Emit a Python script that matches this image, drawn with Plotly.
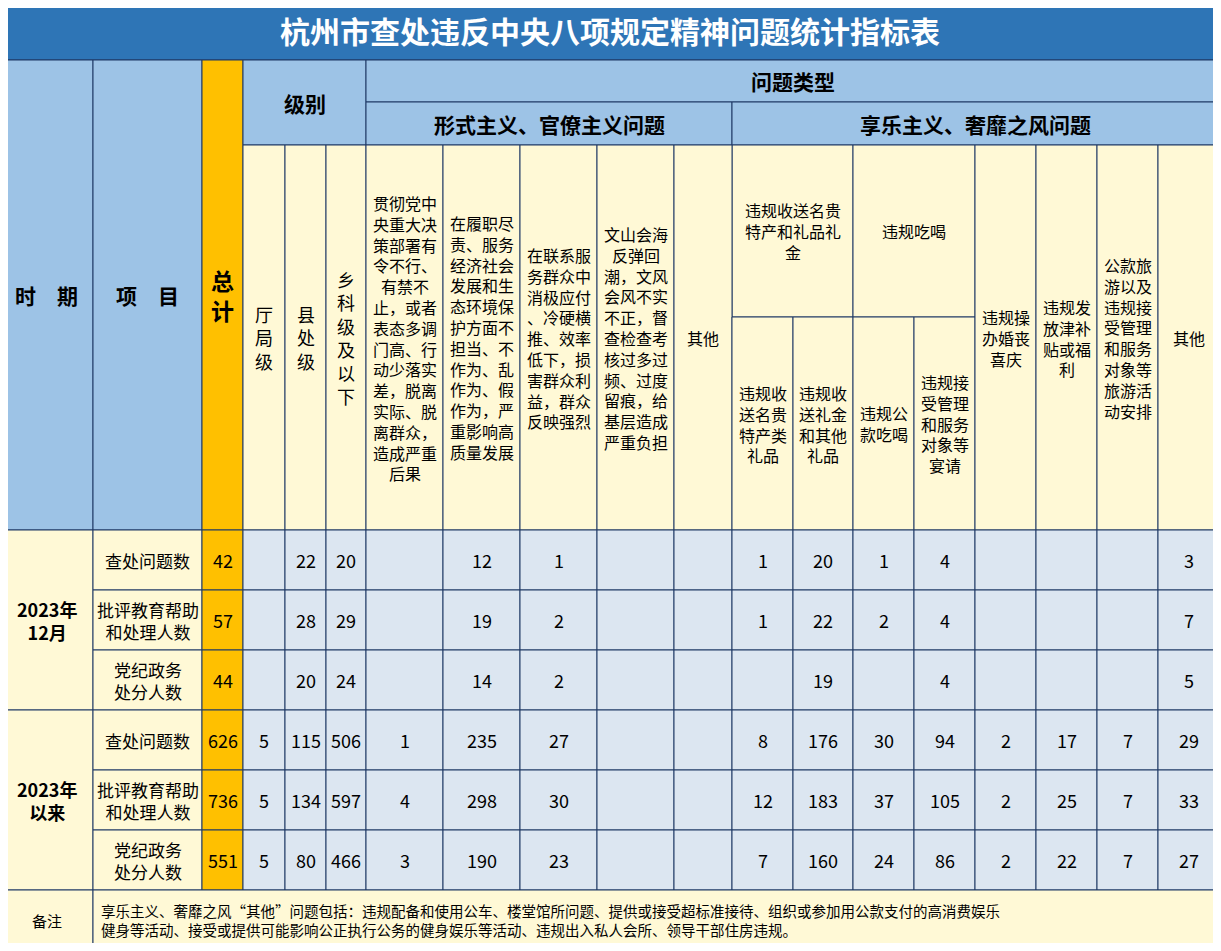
import plotly.graph_objects as go

title = "杭州市查处违反中央八项规定精神问题统计指标表"
periods = ["2023年<br>12月", "2023年<br>以来"]
items = ["查处问题数", "批评教育帮助<br>和处理人数", "党纪政务<br>处分人数"]
col_heads = ["厅<br>局<br>级", "县<br>处<br>级", "乡<br>科<br>级<br>及<br>以<br>下",
             "贯彻党中<br>央重大决<br>策部署有<br>令不行、<br>有禁不<br>止，或者<br>表态多调<br>门高、行<br>动少落实<br>差，脱离<br>实际、脱<br>离群众，<br>造成严重<br>后果",
             "在履职尽<br>责、服务<br>经济社会<br>发展和生<br>态环境保<br>护方面不<br>担当、不<br>作为、乱<br>作为、假<br>作为，严<br>重影响高<br>质量发展",
             "在联系服<br>务群众中<br>消极应付<br>、冷硬横<br>推、效率<br>低下，损<br>害群众利<br>益，群众<br>反映强烈",
             "文山会海<br>反弹回<br>潮，文风<br>会风不实<br>不正，督<br>查检查考<br>核过多过<br>频、过度<br>留痕，给<br>基层造成<br>严重负担",
             "其他",
             "违规收<br>送名贵<br>特产类<br>礼品", "违规收<br>送礼金<br>和其他<br>礼品",
             "违规公<br>款吃喝", "违规接<br>受管理<br>和服务<br>对象等<br>宴请",
             "违规操<br>办婚丧<br>喜庆", "违规发<br>放津补<br>贴或福<br>利",
             "公款旅<br>游以及<br>违规接<br>受管理<br>和服务<br>对象等<br>旅游活<br>动安排", "其他"]
totals = [42, 57, 44, 626, 736, 551]
values = [
    ["", 22, 20, "", 12, 1, "", "", 1, 20, 1, 4, "", "", "", 3],
    ["", 28, 29, "", 19, 2, "", "", 1, 22, 2, 4, "", "", "", 7],
    ["", 20, 24, "", 14, 2, "", "", "", 19, "", 4, "", "", "", 5],
    [5, 115, 506, 1, 235, 27, "", "", 8, 176, 30, 94, 2, 17, 7, 29],
    [5, 134, 597, 4, 298, 30, "", "", 12, 183, 37, 105, 2, 25, 7, 33],
    [5, 80, 466, 3, 190, 23, "", "", 7, 160, 24, 86, 2, 22, 7, 27],
]
note = ("享乐主义、奢靡之风“其他”问题包括：违规配备和使用公车、楼堂馆所问题、提供或接受超标准接待、组织或参加用公款支付的高消费娱乐<br>"
        "健身等活动、接受或提供可能影响公正执行公务的健身娱乐等活动、违规出入私人会所、领导干部住房违规。")

# grid lines in pixels
xs = [0, 93, 202, 243, 285, 326, 366, 443, 520, 597, 674, 732, 793, 853, 914, 975, 1036, 1097, 1158, 1219]
ys = [530, 590, 650, 710, 770, 830, 890]

BLUE, LBLUE, CREAM, ORANGE, CELL = "#2e75b6", "#9dc3e6", "#fff9d6", "#ffc000", "#dce6f1"
LINE = "#1f3864"
FONT = "Noto Sans CJK SC"

fig = go.Figure()
shapes, anns = [], []

def cell(x0, y0, x1, y1, fill, text="", size=16, bold=False, color="black", align="center", lw=1):
    shapes.append(dict(type="rect", x0=x0, y0=y0, x1=x1, y1=y1, fillcolor=fill,
                       line=dict(color=LINE, width=lw), layer="below"))
    if text != "":
        t = f"<b>{text}</b>" if bold else str(text)
        xa = (x0 + x1) / 2 if align == "center" else x0 + 6
        anns.append(dict(x=xa, y=(y0 + y1) / 2, text=t, showarrow=False, align=align,
                         xanchor="center" if align == "center" else "left",
                         font=dict(family=FONT, size=size, color=color)))

cell(0, 0, 1219, 60, BLUE, title, 30, True, "white")
cell(0, 60, 93, 530, LBLUE, "时　期", 21, True)
cell(93, 60, 202, 530, LBLUE, "项　目", 21, True)
cell(202, 60, 243, 530, ORANGE, "总<br>计", 23, True)
cell(243, 60, 366, 145, LBLUE, "级别", 21, True)
cell(366, 60, 1219, 102, LBLUE, "问题类型", 21, True)
cell(366, 102, 732, 145, LBLUE, "形式主义、官僚主义问题", 21, True)
cell(732, 102, 1219, 145, LBLUE, "享乐主义、奢靡之风问题", 21, True)
cell(732, 145, 853, 317, CREAM, "违规收送名贵<br>特产和礼品礼<br>金", 16)
cell(853, 145, 975, 317, CREAM, "违规吃喝", 16)
for i, h in enumerate(col_heads):
    j = i + 3
    top = 317 if 11 <= j <= 14 else 145
    fs = 18 if j < 6 else 16
    cell(xs[j], top, xs[j + 1], 530, CREAM, h, fs)

for p in range(2):
    cell(0, ys[p * 3], 93, ys[p * 3 + 3], CREAM, periods[p], 18, True)
for r in range(6):
    y0, y1 = ys[r], ys[r + 1]
    cell(93, y0, 202, y1, CREAM, items[r % 3], 17)
    cell(202, y0, 243, y1, ORANGE, totals[r], 18)
    for i, v in enumerate(values[r]):
        cell(xs[i + 3], y0, xs[i + 4], y1, CELL, v, 18)

cell(0, 890, 93, 950, CREAM, "备注", 15)
cell(93, 890, 1219, 950, CREAM, note, 14.5, align="left")

# page body has an 8px margin, so shift the view to line up with the reference
fig.update_layout(width=1205, height=935, margin=dict(l=0, r=0, t=0, b=0),
                  paper_bgcolor="white", plot_bgcolor="white",
                  shapes=shapes, annotations=anns, showlegend=False,
                  xaxis=dict(range=[8, 1213], visible=False, fixedrange=True),
                  yaxis=dict(range=[943, 8], visible=False, fixedrange=True))
fig.write_html("out.html")
